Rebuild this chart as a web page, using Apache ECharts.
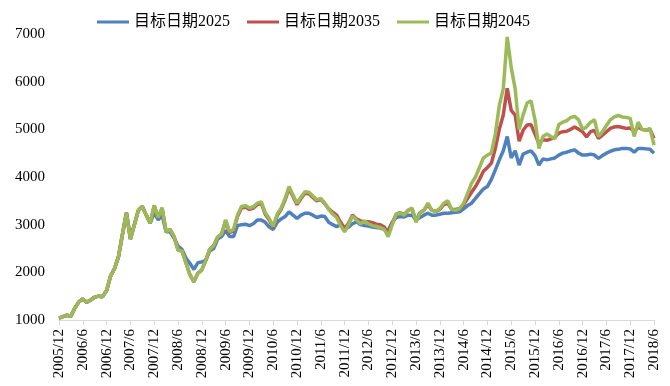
<!DOCTYPE html>
<html>
<head>
<meta charset="utf-8">
<script src="https://cdn.jsdelivr.net/npm/echarts@6/dist/echarts.min.js"></script>
<style>html,body{margin:0;padding:0;background:#fff;}#c{width:670px;height:386px;}</style>
</head>
<body>
<div id="c"></div>
<script>
// Monthly observations, 2005/12 .. 2018/6
var startYear = 2005, startMonth = 12, monthCount = 151;
var seriesNames = ['目标日期2025', '目标日期2035', '目标日期2045'];
var yTicks = [1000, 2000, 3000, 4000, 5000, 6000, 7000];

var s2025 = [1040,1070,1100,1080,1250,1380,1440,1370,1420,1480,1500,1490,1620,1920,2080,2330,2800,3250,2700,3000,
3300,3380,3200,3030,3250,3100,3200,2850,2850,2720,2550,2480,2300,2190,2060,2200,2220,2250,2450,2500,
2700,2750,2880,2750,2750,2980,3000,3010,2980,3020,3100,3100,3050,2950,2900,3050,3120,3170,3270,3200,
3130,3200,3240,3240,3200,3150,3180,3170,3050,3000,2960,3000,2900,2950,3020,3060,3000,2980,2970,2950,
2940,2930,2900,2880,3050,3150,3170,3160,3200,3200,3100,3150,3200,3240,3200,3200,3220,3240,3240,3250,
3260,3270,3330,3400,3450,3550,3650,3750,3800,3950,4150,4360,4550,4850,4400,4550,4250,4480,4520,4550,
4450,4250,4380,4360,4380,4400,4460,4500,4520,4550,4570,4500,4460,4460,4480,4460,4390,4450,4500,4540,
4570,4580,4600,4600,4590,4520,4600,4600,4590,4580,4500];

var s2035 = [1040,1070,1100,1080,1250,1380,1440,1370,1420,1480,1500,1490,1620,1920,2080,2330,2800,3250,2700,3000,
3300,3380,3200,3030,3400,3150,3350,2850,2900,2750,2470,2450,2200,1950,1800,1980,2050,2250,2480,2560,
2740,2800,3080,2830,2880,3170,3350,3370,3320,3350,3420,3450,3220,3100,2940,3190,3320,3520,3760,3590,
3420,3550,3660,3650,3570,3500,3530,3440,3330,3260,3200,3050,2920,3030,3200,3120,3080,3060,3060,3040,
3010,3000,2950,2820,3030,3220,3250,3210,3300,3330,3080,3250,3300,3420,3300,3280,3320,3420,3450,3320,
3320,3340,3420,3550,3680,3800,3950,4120,4200,4290,4600,5000,5300,5860,5400,5300,4750,4980,5090,5100,
4900,4700,4780,4770,4800,4840,4920,4950,4960,5000,5050,5000,4950,4840,4950,4980,4810,4880,4950,5020,
5050,5060,5040,5020,5030,4950,5050,5000,4980,5000,4810];

var s2045 = [1040,1070,1100,1080,1250,1380,1440,1370,1420,1480,1500,1490,1620,1920,2080,2330,2800,3250,2700,3000,
3300,3380,3200,3030,3400,3150,3350,2850,2900,2750,2470,2450,2200,1950,1800,1980,2050,2250,2480,2560,
2740,2800,3100,2850,2900,3200,3380,3400,3350,3380,3450,3480,3250,3130,2960,3220,3350,3550,3800,3620,
3450,3580,3690,3680,3600,3520,3550,3450,3320,3220,3150,2980,2850,3000,3180,3100,3020,3080,3020,2980,
2960,2940,2900,2750,3000,3220,3240,3200,3300,3350,3050,3250,3300,3450,3300,3280,3340,3450,3500,3320,
3300,3340,3450,3650,3870,4000,4200,4400,4460,4500,4900,5500,5850,6940,6300,5850,5000,5300,5550,5600,
5200,4600,4850,4900,4850,4800,5100,5150,5180,5250,5270,5200,5000,5050,5150,5200,4850,4950,5080,5200,
5260,5290,5260,5250,5230,4850,5150,5000,4980,5020,4670];

var colors = ['#4F81BD', '#C0504D', '#9BBB59'];

var categories = [];
(function () {
  var y = startYear, m = startMonth;
  for (var i = 0; i < monthCount; i++) {
    categories.push(y + '/' + m);
    m++; if (m > 12) { m = 1; y++; }
  }
})();

var serif = "'Liberation Serif', 'Times New Roman', 'Noto Sans CJK SC', serif";
var chart = echarts.init(document.getElementById('c'), null, {renderer: 'canvas'});
var data = [s2025, s2035, s2045];
chart.setOption({
  animation: false,
  backgroundColor: '#fff',
  color: colors,
  legend: {
    top: 9, left: 92,
    icon: 'rect', itemWidth: 32, itemHeight: 3, itemGap: 17,
    textStyle: {fontFamily: serif, fontSize: 16, color: '#000'},
    data: seriesNames
  },
  grid: {left: 59, right: 16, top: 34, bottom: 66, containLabel: false},
  xAxis: {
    type: 'category', boundaryGap: false, data: categories,
    axisLine: {lineStyle: {color: '#d9d9d9', width: 1}},
    axisTick: {interval: 5, length: 5, lineStyle: {color: '#d9d9d9'}},
    axisLabel: {interval: 5, rotate: 90, margin: 9, fontFamily: serif, fontSize: 15, color: '#000'},
    splitLine: {show: false}
  },
  yAxis: {
    type: 'value', min: yTicks[0], max: yTicks[yTicks.length - 1], interval: 1000,
    axisLine: {show: false}, axisTick: {show: false}, splitLine: {show: false},
    axisLabel: {margin: 14, fontFamily: serif, fontSize: 15, color: '#000',
      formatter: function (v) { return String(v); }}
  },
  series: seriesNames.map(function (n, i) {
    return {
      name: n, type: 'line', data: data[i], showSymbol: false, symbol: 'none',
      lineStyle: {width: 3.5, color: colors[i]}, itemStyle: {color: colors[i]},
      z: 2 + i
    };
  })
});
</script>
</body>
</html>
